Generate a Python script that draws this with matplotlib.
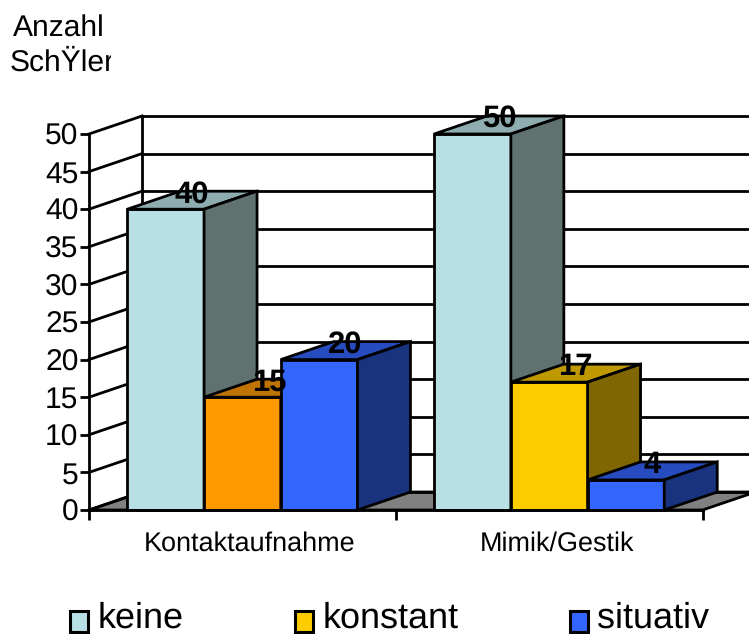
import matplotlib
matplotlib.use('Agg')
import matplotlib.pyplot as plt
from matplotlib.patches import Patch
from matplotlib.transforms import Bbox, TransformedBbox

plt.rcParams['font.family'] = ['Liberation Sans', 'DejaVu Sans']
plt.rcParams['text.hinting'] = 'no_hinting'
plt.rcParams['text.hinting_factor'] = 1

categories = ['Kontaktaufnahme', 'Mimik/Gestik']
series_names = ['keine', 'konstant', 'situativ']
keine = [40, 50]
konstant = [15, 17]
situativ = [20, 4]
y_ticks = [0, 5, 10, 15, 20, 25, 30, 35, 40, 45, 50]

# front, top, side for every bar
light = ('#B8DFE3', '#8FADB0', '#5F7270')
orange = ('#FF9900', '#BF7300', '#805000')
yellow = ('#FFCC00', '#BF9900', '#806600')
blue = ('#3366FF', '#264CBF', '#19337F')
series_colors = [[light, light], [orange, yellow], [blue, blue]]
legend_colors = [light[0], yellow[0], blue[0]]

W, H = 749, 634
px_x = 76.7   # pixels per bar width
px_y = 7.52   # pixels per value
x0, y0 = 89, 510
dx = 53 / px_x
dy = 18 / px_y
lw = 2

fig = plt.figure(figsize=(W / 100, H / 100), dpi=100)
ax = fig.add_axes([0, 0, 1, 1])
ax.set_xlim(-x0 / px_x, (W - x0) / px_x)
ax.set_ylim(-(H - y0) / px_y, y0 / px_y)

# floor and back wall
xr = 8
ax.fill([0, dx, xr + dx, xr], [0, dy, dy, 0], facecolor='#808080', edgecolor='black', lw=lw, zorder=1)
ax.plot([dx, dx], [dy, 50 + dy], color='black', lw=lw, zorder=1)
for v in y_ticks:
    ax.plot([0, dx], [v, v + dy], color='black', lw=lw, zorder=1)
    ax.plot([dx, xr + dx], [v + dy, v + dy], color='black', lw=lw, zorder=1)

# bars, drawn from left to right so the nearer ones cover the sides
z = 2
for g in range(len(categories)):
    for s, values in enumerate([keine, konstant, situativ]):
        v = values[g]
        left = g * 4 + 0.5 + s
        front, top, side = series_colors[s][g]
        ax.bar(left, v, width=1, align='edge', color=front, edgecolor='black', lw=lw, zorder=z)
        ax.fill([left, left + dx, left + 1 + dx, left + 1], [v, v + dy, v + dy, v],
                facecolor=top, edgecolor='black', lw=lw, zorder=z)
        ax.fill([left + 1, left + 1 + dx, left + 1 + dx, left + 1], [0, dy, v + dy, v],
                facecolor=side, edgecolor='black', lw=lw, zorder=z)
        ax.text(left + 0.5 + dx / 2, v + 15 / px_y, str(v), ha='center', va='center',
                fontsize=22, fontweight='bold', color='black', zorder=20)
        z += 1

# axes
for name in ['top', 'right']:
    ax.spines[name].set_visible(False)
ax.spines['left'].set_position(('data', 0))
ax.spines['left'].set_bounds(0, 50)
ax.spines['bottom'].set_position(('data', 0))
ax.spines['bottom'].set_bounds(0, 8)
ax.spines['left'].set_linewidth(lw)
ax.spines['bottom'].set_linewidth(lw)
ax.spines['left'].set_zorder(15)
ax.spines['bottom'].set_zorder(15)
ax.set_yticks(y_ticks)
ax.tick_params(axis='y', labelsize=21.5, length=6.5, width=lw, pad=1)
ax.set_xticks([0, 4, 8])
ax.set_xticklabels([])
ax.tick_params(axis='x', which='major', length=7, width=lw)
# labels sit a little right of the group centre in the original
ax.set_xticks([2.1, 6.1], minor=True)
ax.set_xticklabels(categories, minor=True, fontsize=19.6)
ax.tick_params(axis='x', which='minor', length=0, pad=15)

# axis title, second line is cut off in the original
ax.text(13 / W, 1 - 37 / H, 'Anzahl', transform=ax.transAxes, fontsize=21.5, ha='left', va='baseline')
t = ax.text(10 / W, 1 - 71 / H, 'SchŸler', transform=ax.transAxes, fontsize=21.5, ha='left', va='baseline')
t.set_clip_box(TransformedBbox(Bbox([[0, 0], [111 / W, 1]]), ax.transAxes))
t.set_clip_on(True)

handles = [Patch(facecolor=c, edgecolor='black', lw=2.2) for c in legend_colors]
leg = ax.legend(handles, series_names, ncol=3, frameon=False, fontsize=26,
                handlelength=0.5, handleheight=0.5, handletextpad=0.27, columnspacing=3.08,
                borderpad=0, borderaxespad=0, loc='lower left', bbox_to_anchor=(69.5 / W, -1.4 / H))
for h in leg.legend_handles:
    h.set_y(h.get_y() - 4.8)

fig.savefig('out.png', dpi=100)
